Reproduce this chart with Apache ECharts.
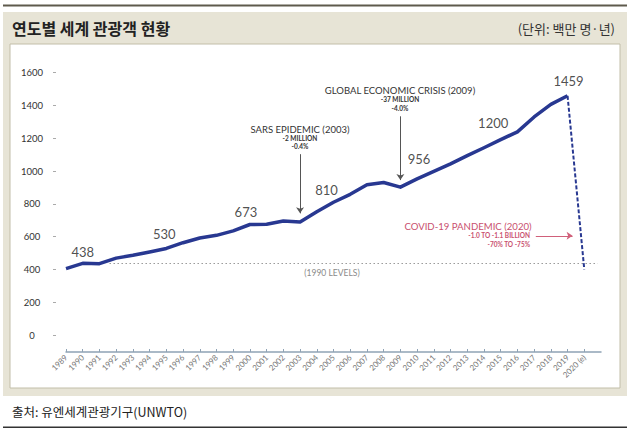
<!DOCTYPE html>
<html><head><meta charset="utf-8">
<script src="https://cdn.jsdelivr.net/npm/echarts@6/dist/echarts.min.js"></script>
<style>html,body{margin:0;padding:0;background:#fff}#c{width:630px;height:434px}</style>
</head><body><div id="c"></div>
<script>
const years = [1989,1990,1991,1992,1993,1994,1995,1996,1997,1998,1999,2000,2001,2002,2003,2004,2005,2006,2007,2008,2009,2010,2011,2012,2013,2014,2015,2016,2017,2018,2019,2020];
const yearLabels = ['1989','1990','1991','1992','1993','1994','1995','1996','1997','1998','1999','2000','2001','2002','2003','2004','2005','2006','2007','2008','2009','2010','2011','2012','2013','2014','2015','2016','2017','2018','2019','2020 (e)'];
const arrivals = [405,437,435,469,486,506,528,563,592,608,635,674,676,695,689,752,810,858,916,930,902,952,998,1044,1094,1142,1192,1239,1330,1407,1459];
const forecast2020 = 400;
const labelYears = [1990,1995,2000,2005,2010,2015,2019];
const labelTexts = ['438','530','673','810','956','1200','1459'];
const level1990 = 435;

const F = 'Lato, "Noto Sans", sans-serif';
const K = '"Noto Sans CJK KR", sans-serif';
const valueAt = y => arrivals[years.indexOf(y)];
const solid = arrivals.map((v,i)=>[years[i], v]);
const dashed = [[2019, valueAt(2019)], [2020, forecast2020]];
const labelOffsets = [[0,-11.5],[-2,-14.5],[-4,-12.5],[-7,-12.5],[2,-19.5],[-7.5,-16.5],[1,-14.5]];

const chart = echarts.init(document.getElementById('c'), null, {renderer:'svg'});
const txt = (text, x, y, o) => Object.assign({type:'text', z:50, style:Object.assign({text, x, y, textAlign:'center', textVerticalAlign:'middle', fontFamily:F, fontSize:9, fill:'#333'}, o||{})});
chart.setOption({
  backgroundColor:'#fff',
  animation:false,
  grid:{left:66, right:29, top:72.7, bottom:99},
  xAxis:{type:'value', min:1989, max:2021, interval:1, offset:17,
    axisLine:{show:true, onZero:false, lineStyle:{color:'#8fa3b5', width:1.5}},
    axisTick:{show:true, inside:true, length:3, customValues:years, lineStyle:{color:'#8fa3b5'}},
    axisLabel:{rotate:45, margin:4, fontSize:8, color:'#777', fontFamily:F, customValues:years,
      formatter:v=>{const i=years.indexOf(Math.round(v)); return i>=0?yearLabels[i]:'';}},
    splitLine:{show:false}},
  yAxis:{type:'value', min:0, max:1600, interval:200, offset:10,
    axisLine:{show:false},
    axisTick:{show:true, length:3, lineStyle:{color:'#aaa'}},
    axisLabel:{align:'center', margin:24, fontSize:9.5, color:'#333', fontFamily:F, formatter:v=>String(v)},
    splitLine:{show:false}},
  series:[
    {type:'line', data:solid, symbol:'none', z:5,
      lineStyle:{color:'#283891', width:3.5, join:'round'},
      markLine:{silent:true, symbol:['none','arrow'], symbolSize:6, label:{show:false},
        lineStyle:{color:'#555', width:1, type:'solid'},
        data:[
          [{coord:[2003,1103]},{coord:[2003,742]}],
          [{coord:[2009,1334]},{coord:[2009,945]}],
          [{coord:[2017.1,605], lineStyle:{color:'#d0607a', width:1, type:'solid'}},{coord:[2019.3,605]}]
        ]}},
    {type:'line', data:dashed, symbol:'none', z:5,
      lineStyle:{color:'#283891', width:2, type:[4,2]},
      markLine:{silent:true, symbol:['none','none'], label:{show:false},
        lineStyle:{color:'#999', width:1, type:[1.5,2.5]},
        data:[[{coord:[1991.6, level1990]},{coord:[2020.8, level1990]}]]}},
    {type:'scatter', symbolSize:1, itemStyle:{color:'rgba(0,0,0,0)'}, z:6,
      data:labelYears.map((y,i)=>({value:[y, valueAt(y)], label:{offset:labelOffsets[i]}})),
      label:{show:true, position:'inside', fontSize:13, color:'#222', fontFamily:F,
        formatter:p=>labelTexts[p.dataIndex]}}
  ],
  graphic:[
    {type:'rect', z:-10, shape:{x:3, y:4.5, width:624, height:2}, style:{fill:'#5e5a4c'}},
    {type:'rect', z:-10, shape:{x:3, y:12, width:624, height:384}, style:{fill:'#e7e4d6'}},
    {type:'rect', z:-9, shape:{x:10, y:44, width:610, height:344}, style:{fill:'#fff', stroke:'#c2bea9', lineWidth:1}},
    {type:'rect', z:-10, shape:{x:3, y:426.5, width:624, height:1.5}, style:{fill:'#333'}},
    txt('연도별 세계 관광객 현황', 12, 28, {textAlign:'left', fontFamily:K, fontSize:16, fontWeight:'bold', fill:'#222'}),
    txt('(단위: 백만 명·년)', 615, 28, {textAlign:'right', fontFamily:K, fontSize:13, fill:'#333'}),
    txt('출처: 유엔세계관광기구(UNWTO)', 12, 411, {textAlign:'left', fontFamily:K, fontSize:12.5, fill:'#222'}),
    txt('SARS EPIDEMIC (2003)', 300, 129, {fontSize:9.5}),
    txt('-2 MILLION', 300, 138.3, {fontSize:6.5, fontWeight:'bold'}),
    txt('-0.4%', 300, 146.7, {fontSize:6.5, fontWeight:'bold'}),
    txt('GLOBAL ECONOMIC CRISIS (2009)', 400, 90, {fontSize:9.5}),
    txt('-37 MILLION', 400, 99.3, {fontSize:6.5, fontWeight:'bold'}),
    txt('-4.0%', 400, 108.3, {fontSize:6.5, fontWeight:'bold'}),
    txt('COVID-19 PANDEMIC (2020)', 468, 226, {fontSize:9.6, fill:'#c9506e'}),
    txt('-1.0 TO -1.1 BILLION', 530, 235.7, {textAlign:'right', fontSize:6.5, fontWeight:'bold', fill:'#c9506e'}),
    txt('-70% TO -75%', 530, 244.3, {textAlign:'right', fontSize:6.5, fontWeight:'bold', fill:'#c9506e'}),
    txt('(1990 LEVELS)', 332, 273, {fontSize:8.5, fill:'#8a8a8a'})
  ]
});
</script></body></html>
